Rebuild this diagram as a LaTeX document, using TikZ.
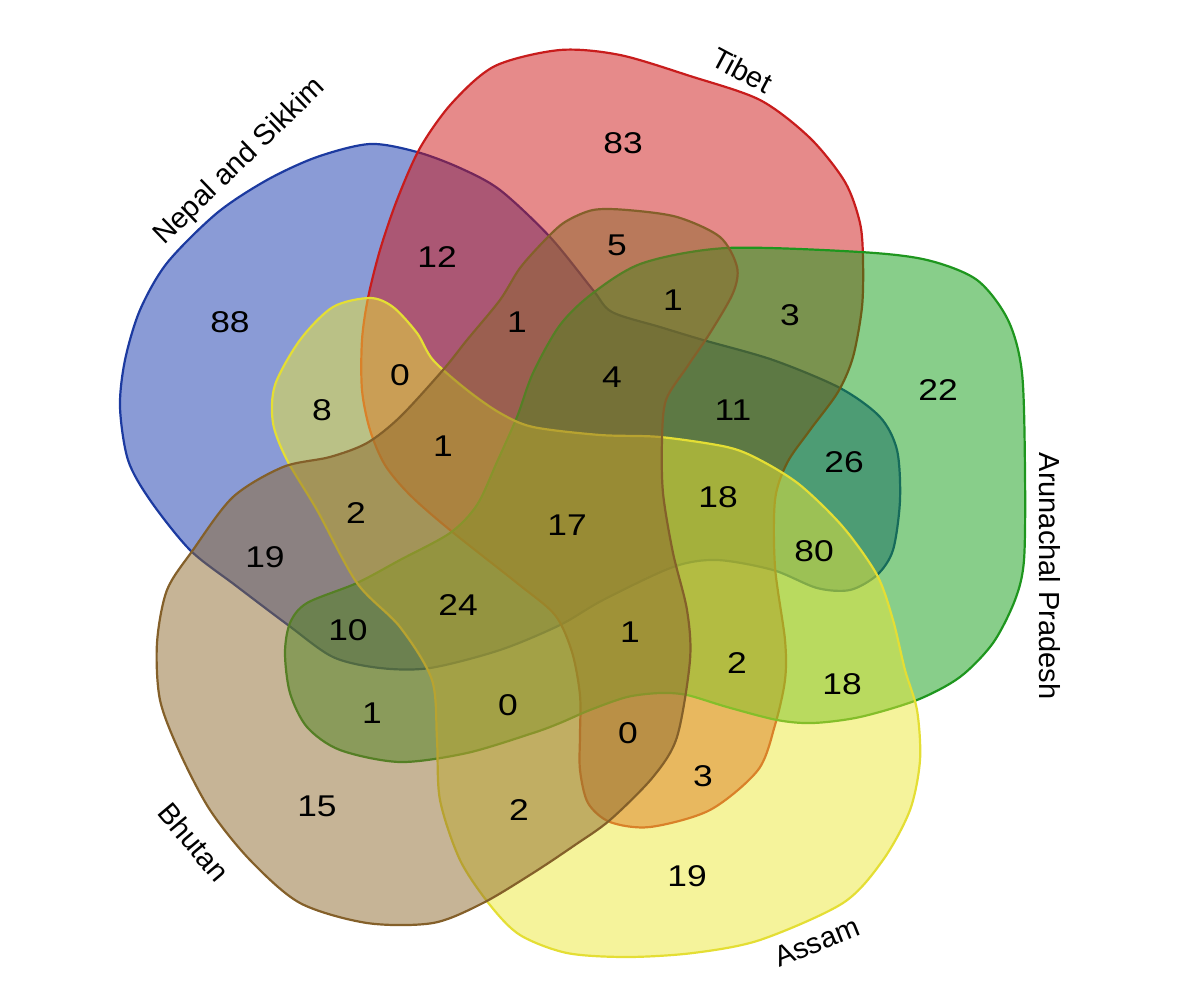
\documentclass[tikz,border=0pt]{standalone}
\usepackage{fontspec}
\setmainfont{Liberation Sans}
\usetikzlibrary{calc}

\definecolor{nepalfill}{RGB}{21,55,173}
\definecolor{nepalline}{RGB}{28,58,160}
\definecolor{tibetfill}{RGB}{205,21,21}
\definecolor{tibetline}{RGB}{200,28,28}
\definecolor{arunfill}{RGB}{17,157,21}
\definecolor{arunline}{RGB}{30,150,30}
\definecolor{assamfill}{RGB}{235,231,55}
\definecolor{assamline}{RGB}{228,222,52}
\definecolor{bhutanfill}{RGB}{141,105,45}
\definecolor{bhutanline}{RGB}{132,96,42}

\tikzset{
  setshape/.style={line width=2.2pt, fill opacity=0.5, draw opacity=1},
  count/.style={font=\fontsize{30}{36}\selectfont, inner sep=0pt, xscale=1.18},
  setname/.style={font=\fontsize{29}{34}\selectfont, inner sep=0pt},
}

\begin{document}
\begin{tikzpicture}[x=1pt,y=-1pt]
            \useasboundingbox (0,0) rectangle (1180,993);

            % Nepal and Sikkim
            \path[setshape, fill=nepalfill, draw=nepalline] plot[smooth cycle] coordinates {
              (370,144) (417,152) (460,168) (500,190) (550,237) (593,290) (612,312)
              (660,327) (703,340) (773,360) (840,388) (880,417) (897,450) (900,500)
              (893,550) (877,575) (850,590) (817,588) (773,570) (717,560) (673,567)
              (603,600) (560,625) (500,650) (430,668) (380,668) (333,657) (288,625)
              (235,585) (190,550) (150,500) (128,460) (120,407) (125,360) (140,310)
              (167,263) (217,213) (267,180) (317,157)};
            % Tibet
            \path[setshape, fill=tibetfill, draw=tibetline] plot[smooth cycle] coordinates {
              (560,50) (620,55) (690,76) (760,100) (810,138) (845,182)
              (860,223) (863,260) (862,307) (853,357) (838,392) (810,430)
              (787,463) (775,500) (775,567) (785,640) (785,680) (775,725) (758,770)
              (710,810) (650,827) (610,822) (588,803) (580,770) (580,735) (580,695)
              (572,652) (555,615) (517,583) (450,530) (410,495) (385,465) (370,430)
              (362,390) (362,340) (368,298) (380,250) (397,200) (420,148) (452,103)
              (495,66)};
            % Arunachal Pradesh
            \path[setshape, fill=arunfill, draw=arunline] plot[smooth cycle] coordinates {
              (593,293) (643,263) (727,248) (860,252) (927,260) (977,280) (1008,320)
              (1022,373) (1025,473) (1024,560) (1015,600) (993,643) (960,677)
              (917,700) (860,717) (813,723) (777,720) (727,707) (687,695) (660,693)
              (627,697) (590,710) (560,723) (533,733) (467,753) (400,762) (340,750)
              (307,727) (290,693) (285,653) (290,623) (307,603) (357,583) (400,560)
              (450,533) (477,505) (497,462) (517,417) (533,373) (560,325)};
            % Assam
            \path[setshape, fill=assamfill, draw=assamline] plot[smooth cycle] coordinates {
              (370,298) (393,307) (417,333) (433,360) (467,390) (500,413) (533,427)
              (600,435) (660,437) (727,447) (760,460) (800,485) (843,527) (877,575)
              (893,620) (905,670) (917,710) (920,760) (910,810) (883,860) (843,903)
              (760,940) (693,953) (627,957) (567,953) (520,935) (490,905) (460,860)
              (440,800) (437,740) (432,680) (400,627) (357,583) (317,510) (287,460)
              (273,423) (275,385) (300,340) (333,307)};
            % Bhutan
            \path[setshape, fill=bhutanfill, draw=bhutanline] plot[smooth cycle] coordinates {
              (283,467) (233,497) (193,550) (167,590) (157,643) (160,700) (180,753)
              (210,810) (250,860) (300,903) (367,923) (433,923) (483,903) (533,873)
              (575,845) (610,820) (653,777) (677,737) (690,660) (687,610) (673,553)
              (663,493) (662,440) (666,400) (687,367) (710,333) (733,293) (737,267)
              (720,237) (677,217) (627,210) (593,210) (565,222) (545,240) (520,268)
              (500,300) (467,340) (443,370) (400,417) (367,443) (330,457)};

            % set names
            \node[setname, rotate=44]  (nepal)  at (240,162) {Nepal and Sikkim};
            \node[setname, rotate=-28] (tibet)  at (742,70)  {Tibet};
            \node[setname, rotate=-90] (arun)   at (1050,576) {Arunachal Pradesh};
            \node[setname, rotate=22]  (assam)  at (817,942) {Assam};
            \node[setname, rotate=-50] (bhutan) at (194,842) {Bhutan};

            % counts
            \node[count] (n88) at (230,322) {88};
            \node[count] (n12) at (437,257) {12};
            \node[count] (n83) at (623,143) {83};
            \node[count] (n5)  at (617,245) {5};
            \node[count] (n1a) at (517,322) {1};
            \node[count] (n1b) at (673,300) {1};
            \node[count] (n3a) at (790,315) {3};
            \node[count] (n0a) at (400,375) {0};
            \node[count] (n4)  at (612,377) {4};
            \node[count] (n11) at (733,410) {11};
            \node[count] (n22) at (938,390) {22};
            \node[count] (n8)  at (322,410) {8};
            \node[count] (n1c) at (443,446) {1};
            \node[count] (n26) at (844,462) {26};
            \node[count] (n18a) at (718,497) {18};
            \node[count] (n17) at (567,525) {17};
            \node[count] (n2a) at (356,513) {2};
            \node[count] (n19a) at (265,557) {19};
            \node[count] (n80) at (814,551) {80};
            \node[count] (n24) at (458,605) {24};
            \node[count] (n10) at (348,630) {10};
            \node[count] (n1d) at (630,632) {1};
            \node[count] (n2b) at (737,663) {2};
            \node[count] (n18b) at (842,684) {18};
            \node[count] (n1e) at (372,713) {1};
            \node[count] (n0b) at (508,705) {0};
            \node[count] (n0c) at (628,733) {0};
            \node[count] (n3b) at (703,776) {3};
            \node[count] (n15) at (317,806) {15};
            \node[count] (n2c) at (519,810) {2};
            \node[count] (n19b) at (687,876) {19};
          \end{tikzpicture}
\end{document}
